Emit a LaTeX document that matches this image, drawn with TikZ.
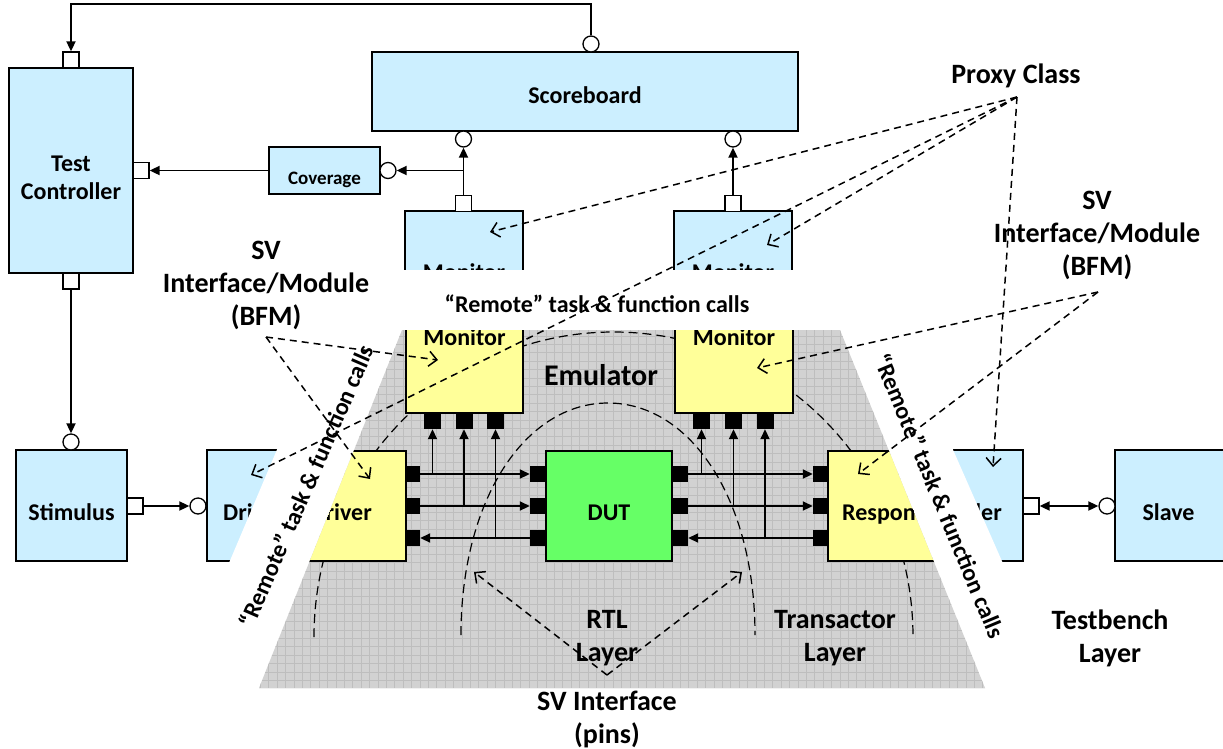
\documentclass[tikz,border=0pt]{standalone}
\usepackage{fontspec}
\setmainfont{Carlito}
\usetikzlibrary{arrows.meta,calc}

\definecolor{tbblue}{RGB}{204,239,255}
\definecolor{emyellow}{RGB}{255,255,153}
\definecolor{dutgreen}{RGB}{102,255,102}
\definecolor{emgray}{RGB}{210,210,210}
\definecolor{emgrid}{RGB}{190,190,190}

\tikzset{
  box/.style={draw=black, line width=1.3pt, inner sep=0pt},
  tb/.style={box, fill=tbblue},
  em/.style={box, fill=emyellow},
  dutbox/.style={box, fill=dutgreen},
  port/.style={draw=black, fill=white, line width=1.3pt, minimum width=16pt, minimum height=16pt, inner sep=0pt},
  sock/.style={circle, draw=black, fill=white, line width=1.3pt, minimum size=16pt, inner sep=0pt},
  pin/.style={fill=black, minimum width=16pt, minimum height=16pt, inner sep=0pt},
  conn/.style={line width=1.8pt, -{Triangle[length=10pt,width=9pt]}},
  biconn/.style={line width=1.8pt, {Triangle[length=10pt,width=9pt]}-{Triangle[length=10pt,width=9pt]}},
  note/.style={line width=1.5pt, dash pattern=on 7pt off 5pt, -{Straight Barb[length=8pt,width=15pt]}},
  arcline/.style={line width=1.2pt, dash pattern=on 9pt off 5pt},
  tsmall/.style={font=\fontsize{19}{23}\selectfont\bfseries, inner sep=0pt},
  tmid/.style={font=\fontsize{24}{28.5}\selectfont\bfseries, inner sep=0pt, align=center},
  tbig/.style={font=\fontsize{28}{33}\selectfont\bfseries, inner sep=0pt, align=center},
  thuge/.style={font=\fontsize{30}{36}\selectfont\bfseries, inner sep=0pt},
}

\begin{document}
\begin{tikzpicture}[x=1pt,y=-1pt]
\useasboundingbox[fill=white] (0,0) rectangle (1223,748);

% ---------------- testbench layer ----------------
\node[tb, minimum width=124pt, minimum height=205pt] (tc) at (71,170.5) {};
\node[tmid] (tctxt) at (71,178) {Test\\Controller};
\node[port] (tcp1) at (71,60) {};
\node[port] (tcp2) at (141,170.5) {};
\node[port] (tcp3) at (71,281) {};

\node[tb, minimum width=426pt, minimum height=79pt] (sb) at (585,91.5) {};
\node[tmid, anchor=base] (sbtxt) at (585,103) {Scoreboard};
\node[sock] (sbtop) at (591,44) {};
\node[sock] (sbl) at (463.5,139) {};
\node[sock] (sbr) at (733,139) {};

\node[tb, minimum width=111pt, minimum height=47pt] (cov) at (324.5,170.5) {};
\node[tsmall, anchor=base] (covtxt) at (324.5,184) {Coverage};
\node[sock] (covs) at (388,170.5) {};

\node[tb, minimum width=118pt, minimum height=129pt] (mtl) at (464,275.5) {};
\node[tmid, anchor=base] (mtltxt) at (464,280) {Monitor};
\node[port] (mtlp) at (463.5,203.5) {};
\node[tb, minimum width=118pt, minimum height=129pt] (mtr) at (733,275.5) {};
\node[tmid, anchor=base] (mtrtxt) at (733,280) {Monitor};
\node[port] (mtrp) at (733,203.5) {};

\node[tb, minimum width=111pt, minimum height=111pt] (stim) at (71.5,505.5) {};
\node[tmid, anchor=base] (stimtxt) at (71.5,520) {Stimulus};
\node[sock] (stims) at (71,442) {};
\node[port] (stimp) at (135,506) {};

\node[tb, minimum width=113pt, minimum height=111pt] (drv) at (263.5,505.5) {};
\node[tmid, anchor=base west] (drvtxt) at (223,520) {Driver};
\node[sock] (drvs) at (198,506) {};

\node[tb, minimum width=143pt, minimum height=111pt] (rsp) at (951.5,505.5) {};
\node[tmid, anchor=base east] (rsptxt) at (1002,520) {Responder};
\node[port] (rspp) at (1031,506) {};

\node[tb, minimum width=120pt, minimum height=111pt] (slv) at (1175,505.5) {};
\node[tmid, anchor=base] (slvtxt) at (1168.5,520) {Slave};
\node[sock] (slvs) at (1107,506) {};

% testbench connections
\draw[conn] (sbtop.north) -- ++(0,-31) -| (tcp1.north);
\draw[conn] (mtlp.north) -- (sbl.south);
\draw[conn] (mtrp.north) -- (sbr.south);
\draw[conn] (mtlp.north |- covs.east) -- (covs.east);
\draw[conn] (cov.west) -- (tcp2.east);
\draw[conn] (tcp3.south) -- (stims.north);
\draw[conn] (stimp.east) -- (drvs.west);
\draw[biconn] (rspp.east) -- (slvs.west);

% ---------------- white frame and emulator ----------------
\fill[white] (353,270) -- (874,270) -- (1063,700) -- (171,700) -- cycle;
\coordinate (e1) at (402,330);
\coordinate (e2) at (840,330);
\coordinate (e3) at (985,688);
\coordinate (e4) at (259,688);
\fill[emgray] (e1) -- (e2) -- (e3) -- (e4) -- cycle;

\begin{scope}
  \clip (e1) -- (e2) -- (e3) -- (e4) -- cycle;
  \draw[emgrid, line width=0.7pt, step=8.4pt] (240,320) grid (1000,700);

  % layer boundaries
  \draw[arcline] (314,637) .. controls (314,468) and (448,332) .. (613.5,332)
                 .. controls (779,332) and (913,468) .. (913,637);
  \draw[arcline] (461,635) .. controls (461,500) and (525,403) .. (608,403)
                 .. controls (691,403) and (755,500) .. (755,635);

  \node[thuge, anchor=base] (emtxt) at (601,385) {Emulator};

  \node[em, minimum width=117pt, minimum height=113pt] (ml) at (464.5,356.5) {};
  \node[tmid, anchor=base] (mltxt) at (464.5,345) {Monitor};
  \node[em, minimum width=118pt, minimum height=113pt] (mr) at (734,356.5) {};
  \node[tmid, anchor=base] (mrtxt) at (734,345) {Monitor};

  \node[em, minimum width=136pt, minimum height=110pt] (de) at (338,506) {};
  \node[tmid, anchor=base east] (detxt) at (372,520) {Driver};
  \node[em, minimum width=140pt, minimum height=110pt] (re) at (898,506) {};
  \node[tmid, anchor=base west] (retxt) at (842,520) {Responder};

  \node[dutbox, minimum width=126pt, minimum height=110pt] (dut) at (609,506) {};
  \node[tmid, anchor=base] (duttxt) at (609,520) {DUT};

  % pins
  \foreach \i/\y in {1/474,2/506,3/538} {
    \node[pin, minimum width=14pt] (dl\i) at (413,\y) {};
    \node[pin] (ul\i) at (538,\y) {};
    \node[pin] (ur\i) at (680,\y) {};
    \node[pin, minimum width=15pt] (rl\i) at (820.5,\y) {};
  }
  \foreach \i/\x in {1/432.5,2/464,3/495.5} {
    \node[pin, minimum width=17pt] (ml\i) at (\x,421) {};
  }
  \foreach \i/\x in {1/701.5,2/733.5,3/765} {
    \node[pin, minimum width=17pt] (mr\i) at (\x,421) {};
  }

  % pin-level signals
  \draw[conn] (dl1.east) -- (ul1.west);
  \draw[conn] (dl2.east) -- (ul2.west);
  \draw[conn] (ul3.west) -- (dl3.east);
  \draw[conn] (ml1.south |- dl1.east) -- (ml1.south);
  \draw[conn] (ml2.south |- dl2.east) -- (ml2.south);
  \draw[conn] (ml3.south |- dl3.east) -- (ml3.south);
  \draw[conn] (ur1.east) -- (rl1.west);
  \draw[conn] (ur2.east) -- (rl2.west);
  \draw[conn] (rl3.west) -- (ur3.east);
  \draw[conn] (mr1.south |- ur1.east) -- (mr1.south);
  \draw[conn] (mr2.south |- ur2.east) -- (mr2.south);
  \draw[conn] (mr3.south |- ur3.east) -- (mr3.south);

  \node[tbig] (rtl) at (607,638) {RTL\\Layer};
  \node[tbig] (trl) at (835,638) {Transactor\\Layer};
\end{scope}

% ---------------- labels ----------------
\node[tmid, anchor=base] (rtop) at (597,312) {“Remote” task \& function calls};
\node[tmid, rotate=66.5] (rleft) at (306,486) {“Remote” task \& function calls};
\node[tmid, rotate=-67.4] (rright) at (940,496) {“Remote” task \& function calls};

\node[tbig, anchor=base] (proxy) at (1016,83) {Proxy Class};
\node[tbig] (bfml) at (266,285) {SV\\Interface/Module\\(BFM)};
\node[tbig] (bfmr) at (1097,235.5) {SV\\Interface/Module\\(BFM)};
\node[tbig] (tbl) at (1110,638) {Testbench\\Layer};
\node[tbig] (svpins) at (607,719) {SV Interface\\(pins)};

% ---------------- annotation pointers ----------------
\coordinate (pxo) at (1017,97);
\coordinate (bfmlo) at (266,337);
\coordinate (bfmro) at (1098,292);
\coordinate (pino) at (607,675);

\coordinate (tmtl) at (490,232);
\coordinate (tmtr) at (767,245);
\coordinate (tdrv) at (251,475);
\coordinate (trsp) at (993,467);
\coordinate (tml) at (438,360);
\coordinate (tde) at (370,479);
\coordinate (tmr) at (757,368);
\coordinate (tre) at (858,474);
\coordinate (trtl) at (474,572);
\coordinate (ttrl) at (742,572);

\draw[note] (pxo) -- (tmtl);
\draw[note] (pxo) -- (tmtr);
\draw[note] (pxo) -- (tdrv);
\draw[note] (pxo) -- (trsp);
\draw[note] (bfmlo) -- (tml);
\draw[note] (bfmlo) -- (tde);
\draw[note] (bfmro) -- (tmr);
\draw[note] (bfmro) -- (tre);
\draw[note] (pino) -- (trtl);
\draw[note] (pino) -- (ttrl);
\end{tikzpicture}
\end{document}
